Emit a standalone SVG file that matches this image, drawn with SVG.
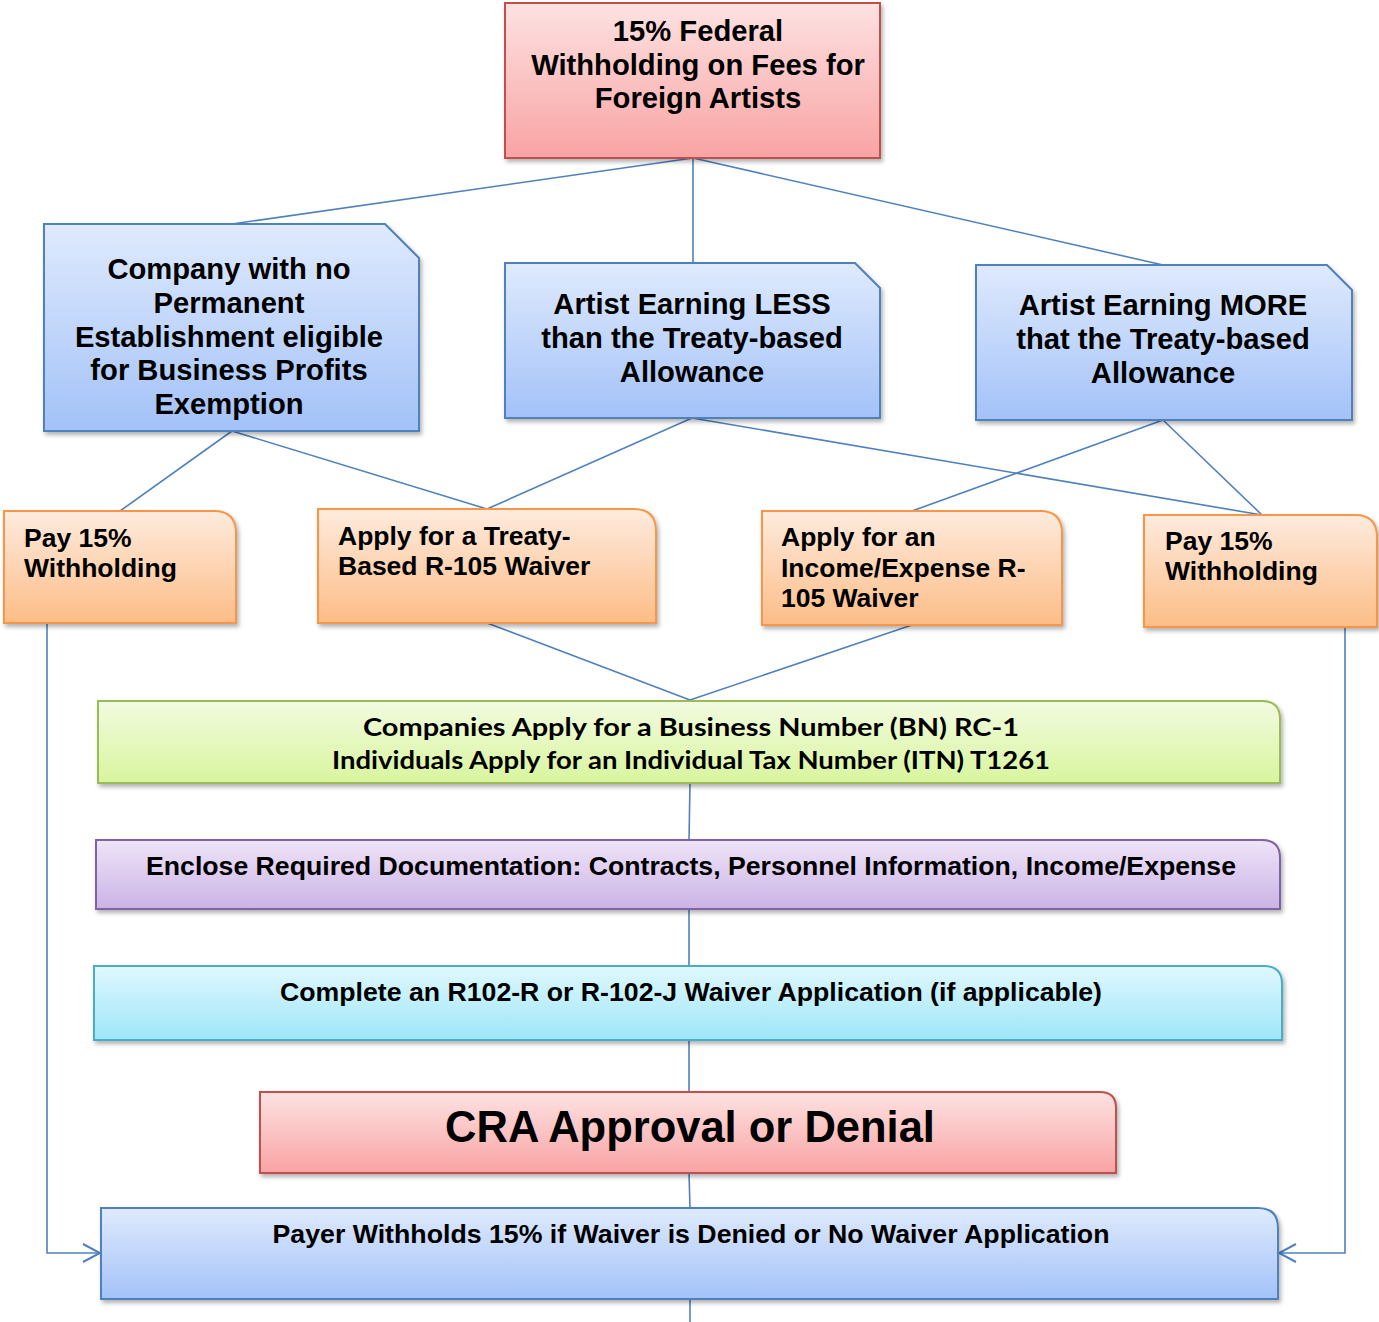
<svg xmlns="http://www.w3.org/2000/svg" width="1379" height="1322" viewBox="0 0 1379 1322">
<defs>
<linearGradient id="gRed" x1="0" y1="0" x2="0" y2="1"><stop offset="0" stop-color="#fde2e2"/><stop offset="1" stop-color="#f9a3a3"/></linearGradient>
<linearGradient id="gBlue" x1="0" y1="0" x2="0" y2="1"><stop offset="0" stop-color="#dfeafd"/><stop offset="1" stop-color="#a3c2f8"/></linearGradient>
<linearGradient id="gOrange" x1="0" y1="0" x2="0" y2="1"><stop offset="0" stop-color="#feebde"/><stop offset="1" stop-color="#fcbd87"/></linearGradient>
<linearGradient id="gGreen" x1="0" y1="0" x2="0" y2="1"><stop offset="0" stop-color="#f2fbe0"/><stop offset="1" stop-color="#d8f59d"/></linearGradient>
<linearGradient id="gPurple" x1="0" y1="0" x2="0" y2="1"><stop offset="0" stop-color="#efe4f8"/><stop offset="1" stop-color="#cbb3e6"/></linearGradient>
<linearGradient id="gCyan" x1="0" y1="0" x2="0" y2="1"><stop offset="0" stop-color="#e0f8fe"/><stop offset="1" stop-color="#9de6f8"/></linearGradient>
<filter id="sh" x="-5%" y="-10%" width="110%" height="130%"><feDropShadow dx="2" dy="3" stdDeviation="2" flood-color="#000" flood-opacity="0.3"/></filter>
<marker id="arr" viewBox="0 0 20 20" refX="18" refY="10" markerWidth="20" markerHeight="20" markerUnits="userSpaceOnUse" orient="auto"><path d="M1,1 L18,10 L1,19" fill="none" stroke="#4f81bd" stroke-width="2"/></marker>
</defs>
<style>
.t{font-family:"Liberation Sans",Arial,sans-serif;font-weight:bold;fill:#000}
.c{text-anchor:middle}
.big{font-size:29.2px}
.mid{font-size:26.5px}
.cal{font-family:Lato,"Open Sans",sans-serif;font-weight:bold;font-size:25px;fill:#000;text-anchor:middle}
.cn{fill:none;stroke:#4f81bd;stroke-width:1.6}
.red{fill:url(#gRed);stroke:#c0504d;stroke-width:2;filter:url(#sh)}
.blue{fill:url(#gBlue);stroke:#4f81bd;stroke-width:2;filter:url(#sh)}
.or{fill:url(#gOrange);stroke:#f79646;stroke-width:2;filter:url(#sh)}
.gr{fill:url(#gGreen);stroke:#9bbb59;stroke-width:2;filter:url(#sh)}
.pu{fill:url(#gPurple);stroke:#8064a2;stroke-width:2;filter:url(#sh)}
.cy{fill:url(#gCyan);stroke:#4bacc6;stroke-width:2;filter:url(#sh)}
</style>
<g id="connectors">
<path class="cn" d="M693,158 L232,224"/>
<path class="cn" d="M693,158 L693,263"/>
<path class="cn" d="M693,158 L1163,265"/>
<path class="cn" d="M232,431 L120,511"/>
<path class="cn" d="M232,431 L487,509"/>
<path class="cn" d="M692,418 L487,509"/>
<path class="cn" d="M692,418 L1262,515"/>
<path class="cn" d="M1163,420 L912,511"/>
<path class="cn" d="M1163,420 L1262,515"/>
<path class="cn" d="M487,623 L690,700"/>
<path class="cn" d="M912,625 L690,700"/>
<path class="cn" d="M690,783 L689,840"/>
<path class="cn" d="M689,909 L689,966"/>
<path class="cn" d="M689,1040 L689,1092"/>
<path class="cn" d="M689,1173 L690,1208"/>
<path class="cn" d="M690,1299 L690,1322"/>
<path class="cn" d="M47,623 L47,1253 L100,1253" marker-end="url(#arr)"/>
<path class="cn" d="M1345,627 L1345,1253 L1279,1253" marker-end="url(#arr)"/>
</g>
<g id="n-top">
<rect class="red" x="505" y="3" width="375" height="155"/>
<text class="t c big" x="698" y="41">15% Federal</text>
<text class="t c big" x="698" y="74.5">Withholding on Fees for</text>
<text class="t c big" x="698" y="108">Foreign Artists</text>
</g>
<g id="n-company">
<path class="blue" d="M44,224 L385,224 L419,258 L419,431 L44,431 Z"/>
<text class="t c big" x="229" y="279">Company with no</text>
<text class="t c big" x="229" y="313">Permanent</text>
<text class="t c big" x="229" y="347">Establishment eligible</text>
<text class="t c big" x="229" y="380">for Business Profits</text>
<text class="t c big" x="229" y="414">Exemption</text>
</g>
<g id="n-less">
<path class="blue" d="M505,263 L855,263 L880,288 L880,418 L505,418 Z"/>
<text class="t c big" x="692" y="314">Artist Earning LESS</text>
<text class="t c big" x="692" y="348">than the Treaty-based</text>
<text class="t c big" x="692" y="382">Allowance</text>
</g>
<g id="n-more">
<path class="blue" d="M976,265 L1327,265 L1352,290 L1352,420 L976,420 Z"/>
<text class="t c big" x="1163" y="315">Artist Earning MORE</text>
<text class="t c big" x="1163" y="349">that the Treaty-based</text>
<text class="t c big" x="1163" y="383">Allowance</text>
</g>
<g id="n-pay1">
<path class="or" d="M4,511 L214,511 Q236,511 236,533 L236,623 L4,623 Z"/>
<text class="t mid" x="24" y="547">Pay 15%</text>
<text class="t mid" x="24" y="577">Withholding</text>
</g>
<g id="n-treaty">
<path class="or" d="M318,509 L634,509 Q656,509 656,531 L656,623 L318,623 Z"/>
<text class="t mid" x="338" y="545">Apply for a Treaty-</text>
<text class="t mid" x="338" y="575">Based R-105 Waiver</text>
</g>
<g id="n-income">
<path class="or" d="M762,511 L1040,511 Q1062,511 1062,533 L1062,625 L762,625 Z"/>
<text class="t mid" x="781" y="546">Apply for an</text>
<text class="t mid" x="781" y="577">Income/Expense R-</text>
<text class="t mid" x="781" y="607">105 Waiver</text>
</g>
<g id="n-pay2">
<path class="or" d="M1144,515 L1355,515 Q1377,515 1377,537 L1377,627 L1144,627 Z"/>
<text class="t mid" x="1165" y="550">Pay 15%</text>
<text class="t mid" x="1165" y="580">Withholding</text>
</g>
<g id="n-bn">
<path class="gr" d="M98,701 L1262,701 Q1280,701 1280,719 L1280,783 L98,783 Z"/>
<text class="cal" x="691" y="736" textLength="656" lengthAdjust="spacingAndGlyphs">Companies Apply for a Business Number (BN) RC-1</text>
<text class="cal" x="691" y="769" textLength="718" lengthAdjust="spacingAndGlyphs">Individuals Apply for an Individual Tax Number (ITN) T1261</text>
</g>
<g id="n-docs">
<path class="pu" d="M96,840 L1262,840 Q1280,840 1280,858 L1280,909 L96,909 Z"/>
<text class="t c mid" x="691" y="875" textLength="1090" lengthAdjust="spacingAndGlyphs">Enclose Required Documentation: Contracts, Personnel Information, Income/Expense</text>
</g>
<g id="n-r102">
<path class="cy" d="M94,966 L1264,966 Q1282,966 1282,984 L1282,1040 L94,1040 Z"/>
<text class="t c mid" x="691" y="1001" textLength="822" lengthAdjust="spacingAndGlyphs">Complete an R102-R or R-102-J Waiver Application (if applicable)</text>
</g>
<g id="n-cra">
<path class="red" d="M260,1092 L1100,1092 Q1116,1092 1116,1108 L1116,1173 L260,1173 Z"/>
<text class="t c" style="font-size:43.5px" x="690" y="1142">CRA Approval or Denial</text>
</g>
<g id="n-payer">
<path class="blue" d="M101,1208 L1258,1208 Q1278,1208 1278,1228 L1278,1299 L101,1299 Z"/>
<text class="t c mid" x="691" y="1243" textLength="837" lengthAdjust="spacingAndGlyphs">Payer Withholds 15% if Waiver is Denied or No Waiver Application</text>
</g>
</svg>
